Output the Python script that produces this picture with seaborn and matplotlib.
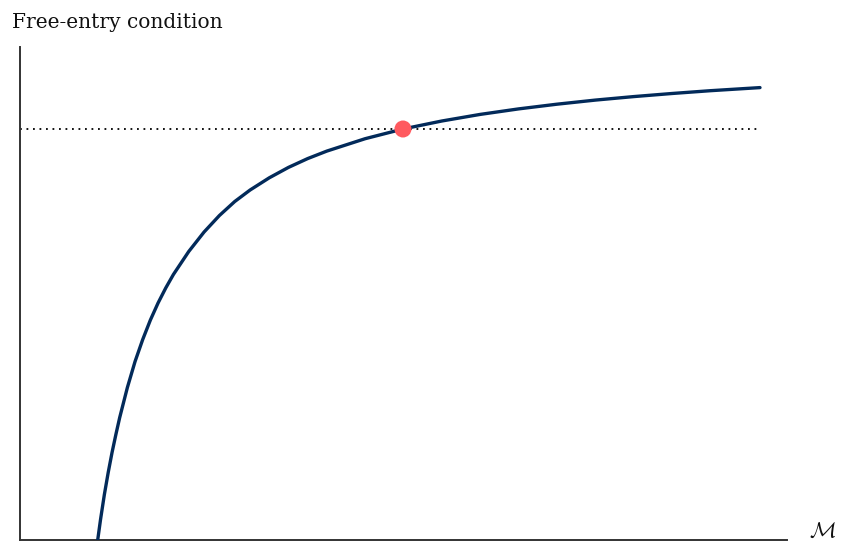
import matplotlib
matplotlib.use("Agg")
import matplotlib.pyplot as plt
import seaborn as sns
import pandas as pd

# Values (free-entry curve, estimated)
m_values = [1.013, 1.05, 1.10, 1.15, 1.20, 1.25, 1.30, 1.40, 1.50, 1.60,
            1.70, 1.80, 1.90, 2.00, 2.20, 2.40, 2.60, 2.80, 3.00, 3.25,
            3.50, 3.75, 4.00, 4.50, 4.993, 5.50, 6.00, 6.50, 7.00, 7.50,
            8.00, 8.50, 9.00, 9.648]
fe_values = [0.000, 0.205, 0.455, 0.675, 0.875, 1.055, 1.225, 1.525, 1.785, 2.005,
             2.200, 2.370, 2.520, 2.655, 2.885, 3.080, 3.245, 3.385, 3.500, 3.622,
             3.726, 3.814, 3.889, 4.013, 4.110, 4.190, 4.256, 4.311, 4.358, 4.399,
             4.434, 4.465, 4.493, 4.524]
eq_m = [4.993]
eq_fe = [4.11]
level_m = [0.0, 9.648]
level_fe = [4.11, 4.11]

title_text = "Free-entry condition"
x_label = r"$\mathcal{M}$"

sns.set_theme(style="white")
plt.rcParams["font.family"] = ["DejaVu Serif", "DejaVu Sans"]
plt.rcParams["mathtext.fontset"] = "cm"

fig = plt.figure(figsize=(8.41, 5.44), dpi=100)
ax = fig.add_axes([20 / 841, 4 / 544, (787 - 20) / 841, (540 - 47) / 544])

curve = pd.DataFrame({"M": m_values, "FE": fe_values})
level = pd.DataFrame({"M": level_m, "FE": level_fe})
eq = pd.DataFrame({"M": eq_m, "FE": eq_fe})

sns.lineplot(data=level, x="M", y="FE", ax=ax, color="black",
             linewidth=1.3, linestyle=(0, (1, 2.6)), zorder=2)
sns.lineplot(data=curve, x="M", y="FE", ax=ax, color="#022a5a",
             linewidth=2.4, zorder=3)
sns.scatterplot(data=eq, x="M", y="FE", ax=ax, color="#ff5a5f", s=150,
                edgecolor="none", zorder=4)

ax.set_xlim(0, 10.0)
ax.set_ylim(0, 4.93)
ax.set_xticks([])
ax.set_yticks([])
ax.set_xlabel("")
ax.set_ylabel("")
for side in ["top", "right"]:
    ax.spines[side].set_visible(False)
for side in ["left", "bottom"]:
    ax.spines[side].set_color("#333333")
    ax.spines[side].set_linewidth(1.4)

fig.text(12 / 841, 1 - 28 / 544, title_text, fontsize=14.5, color="#111111",
         ha="left", va="baseline")
fig.text(822 / 841, 1 - 532 / 544, x_label, fontsize=16, color="#111111",
         ha="center", va="center")

fig.savefig("out.png", dpi=100)
